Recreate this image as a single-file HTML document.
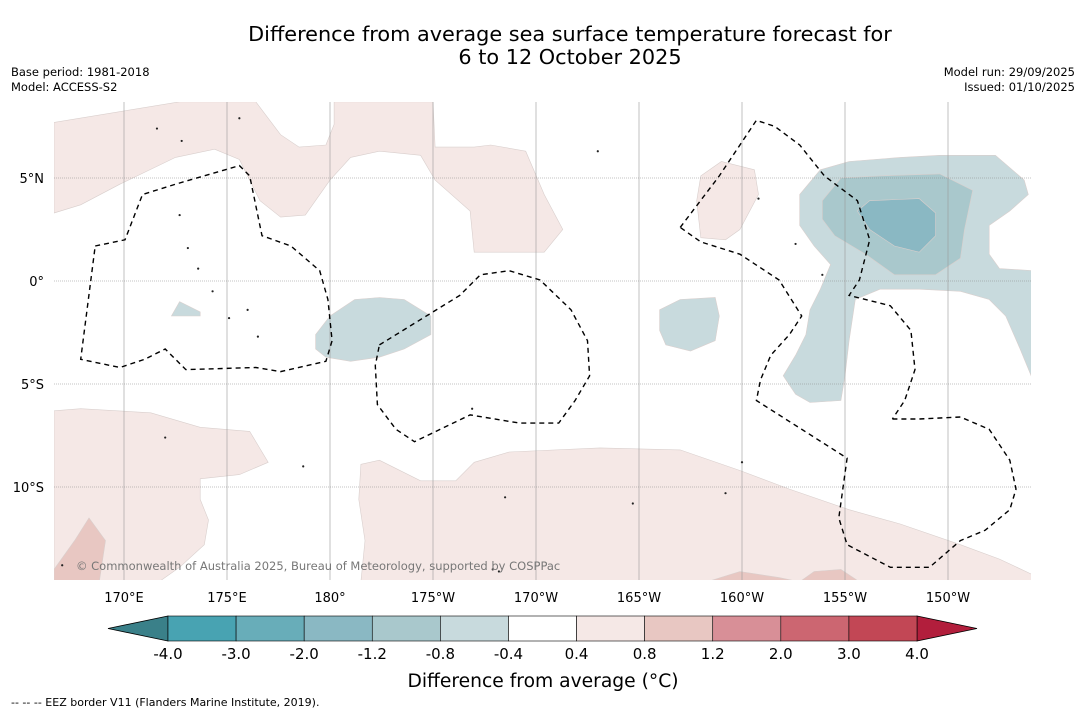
<!DOCTYPE html>
<html><head><meta charset="utf-8"><style>
body{margin:0;background:#fff;width:1085px;height:713px;overflow:hidden;font-family:"DejaVu Sans","Liberation Sans",sans-serif}
svg{position:absolute;left:0;top:0}
</style></head><body>
<svg id="chart" width="1085" height="713" xmlns="http://www.w3.org/2000/svg">
<text x="570" y="41" text-anchor="middle" font-size="20.8">Difference from average sea surface temperature forecast for</text>
<text x="570" y="64" text-anchor="middle" font-size="20.8">6 to 12 October 2025</text>
<text x="11" y="76" font-size="11.5">Base period: 1981-2018</text>
<text x="11" y="91" font-size="11.5">Model: ACCESS-S2</text>
<text x="1075" y="76" font-size="11.5" text-anchor="end">Model run: 29/09/2025</text>
<text x="1075" y="91" font-size="11.5" text-anchor="end">Issued: 01/10/2025</text>
<defs><clipPath id="mapclip"><rect x="54" y="102" width="977" height="478"/></clipPath></defs>
<g id="map" clip-path="url(#mapclip)"></g>
<g id="axes"></g>
<g id="cbar"></g>
<text x="543" y="687" text-anchor="middle" font-size="18.7">Difference from average (°C)</text>
<text x="11" y="706" font-size="11">-- -- -- EEZ border V11 (Flanders Marine Institute, 2019).</text>
</svg>
<script>
const NS="http://www.w3.org/2000/svg";
const lonTicks=[170,175,180,185,190,195,200,205,210];
const lonLabels=["170°E","175°E","180°","175°W","170°W","165°W","160°W","155°W","150°W"];
const latTicks=[5,0,-5,-10];
const latLabels=["5°N","0°","5°S","10°S"];
const cbarBounds=["-4.0","-3.0","-2.0","-1.2","-0.8","-0.4","0.4","0.8","1.2","2.0","3.0","4.0"];
const cbarColors=["#48a3b2","#68adb9","#8ab8c3","#a9c8cc","#c8dadd","#ffffff","#f5e8e6","#e8c7c2","#d88f97","#cc6671","#c24755"];
const regions=[
 {name:"pink-north",c:"#f5e8e6",p:[[166.6,7.7],[172.7,8.7],[176.4,8.7],[177.6,7.1],[178.5,6.5],[179.8,6.6],[180.2,7.6],[180.2,8.7],[185,8.7],[185.1,6.5],[187,6.5],[187.8,6.6],[189.5,6.3],[190.4,4.2],[191.3,2.5],[190.4,1.4],[187,1.4],[186.8,3.4],[185.1,4.9],[184.4,6.1],[182.4,6.3],[181,6.0],[180,4.9],[178.8,3.2],[177.6,3.1],[176.6,3.9],[175.6,5.9],[174.4,6.4],[172.5,6.0],[169.8,4.7],[167.9,3.7],[166.6,3.3]]},
 {name:"pink-160w-north",c:"#f5e8e6",p:[[198.0,5.1],[199.0,5.8],[200.6,5.4],[200.8,4.2],[199.9,2.5],[199.2,2.0],[198.0,2.1],[197.8,3.9]]},
 {name:"pink-south-west",c:"#f5e8e6",p:[[166.6,-6.3],[167.9,-6.2],[171.3,-6.4],[173.7,-7.1],[176.1,-7.3],[177.0,-8.8],[175.6,-9.4],[173.7,-9.6],[173.7,-10.6],[174.1,-11.6],[173.9,-12.8],[172.7,-13.9],[171.7,-14.6],[166.6,-14.6]]},
 {name:"pink-south-west-dark",c:"#e8c7c2",p:[[166.6,-14.0],[167.6,-12.6],[168.3,-11.5],[169.1,-12.6],[168.8,-14.6],[166.6,-14.6]]},
 {name:"pink-south",c:"#f5e8e6",p:[[181.5,-8.9],[182.4,-8.7],[184.4,-9.7],[186.1,-9.7],[187.0,-8.8],[188.7,-8.3],[193.1,-8.1],[197.0,-8.2],[199.9,-9.2],[202.3,-10.1],[205.2,-11.1],[207.7,-11.8],[210.6,-12.8],[212.5,-13.5],[214.2,-14.3],[214.2,-14.6],[181.5,-14.6],[181.7,-12.6],[181.4,-10.6]]},
 {name:"pink-south-dark-1",c:"#e8c7c2",p:[[198.3,-14.6],[199.9,-14.1],[201.8,-14.4],[202.8,-14.6]]},
 {name:"pink-south-dark-2",c:"#e8c7c2",p:[[202.8,-14.6],[203.5,-14.1],[204.8,-14.0],[205.7,-14.6]]},
 {name:"blue-east",c:"#c8dadd",p:[[202.8,4.2],[203.8,5.4],[205.2,5.8],[207.7,6.0],[209.6,6.1],[212.3,6.1],[213.7,4.9],[213.9,4.2],[213.0,3.4],[212.0,2.7],[212.0,1.3],[212.5,0.6],[214.2,0.5],[214.2,-5.0],[213.5,-3.3],[212.8,-1.7],[212.0,-0.9],[210.6,-0.5],[208.6,-0.4],[206.7,-0.4],[205.5,-0.9],[205.2,-2.9],[205.0,-4.6],[204.8,-5.8],[203.3,-5.9],[202.6,-5.5],[202.0,-4.6],[202.6,-3.6],[203.1,-2.6],[203.3,-1.4],[203.8,-0.4],[204.3,0.8],[203.5,1.7],[202.8,2.7]]},
 {name:"blue-east-mid",c:"#a9c8cc",p:[[203.9,3.9],[204.8,5.0],[206.7,5.1],[209.6,5.2],[211.2,4.4],[210.8,2.5],[210.6,1.1],[209.4,0.3],[207.4,0.3],[206.0,1.3],[204.5,2.2],[203.9,3.0]]},
 {name:"blue-east-core",c:"#8ab8c3",p:[[205.6,3.4],[206.2,3.9],[208.6,4.0],[209.4,3.3],[209.4,2.2],[208.6,1.4],[207.4,1.7],[206.2,2.5]]},
 {name:"blue-180",c:"#c8dadd",p:[[179.3,-2.6],[180,-1.7],[181.2,-0.9],[182.4,-0.8],[183.6,-0.9],[184.9,-1.7],[184.9,-2.6],[183.6,-3.3],[182.4,-3.7],[181.0,-3.9],[179.8,-3.7],[179.3,-3.3]]},
 {name:"blue-165w",c:"#c8dadd",p:[[196.0,-1.4],[197.0,-0.9],[198.7,-0.8],[198.9,-1.7],[198.7,-2.9],[197.5,-3.4],[196.3,-3.1],[196.0,-2.4]]},
 {name:"blue-175e",c:"#c8dadd",p:[[172.3,-1.7],[172.7,-1.0],[173.7,-1.5],[173.7,-1.7]]}
];
const eez=[
 [[168.6,1.7],[170.05,2.0],[170.9,4.2],[172.5,4.7],[175.6,5.6],[176.1,5.1],[176.7,2.2],[178.1,1.7],[179.5,0.5],[179.9,-0.9],[180.1,-2.9],[179.8,-3.9],[177.6,-4.4],[176.4,-4.2],[173.0,-4.3],[172.0,-3.3],[171.0,-3.8],[169.8,-4.2],[167.9,-3.8],[168.6,1.7]],
 [[182.4,-3.1],[186.3,-0.7],[187.3,0.3],[188.7,0.5],[190.2,0.05],[191.7,-1.4],[192.5,-2.9],[192.6,-4.6],[191.9,-5.8],[191.1,-6.9],[189.2,-6.9],[186.8,-6.5],[184.1,-7.8],[183.2,-7.2],[182.3,-6.0],[182.2,-4.1],[182.4,-3.1]],
 [[197.0,2.6],[198.9,5.1],[200.7,7.8],[201.6,7.5],[202.8,6.6],[204.0,5.1],[205.6,3.9],[206.2,2.0],[205.7,0.05],[205.2,-0.7],[207.2,-1.2],[208.2,-2.4],[208.4,-4.3],[207.9,-5.8],[207.3,-6.7]],
 [[207.3,-6.7],[208.6,-6.7],[210.6,-6.6],[212.0,-7.2],[213.0,-8.7],[213.3,-10.1],[213.0,-11.1],[211.8,-12.1],[210.6,-12.6],[209.1,-13.9],[207.2,-13.9],[205.1,-12.8],[204.7,-11.5],[205.1,-8.6],[200.7,-5.8],[200.9,-4.8],[201.4,-3.6],[202.3,-2.6],[202.9,-1.7],[201.8,0.05],[199.9,1.3],[198.0,1.9],[197.0,2.6]]
];
const islands=[[172.8,6.8],[171.6,7.4],[175.6,7.9],[172.7,3.2],[173.1,1.6],[173.6,0.6],[174.3,-0.5],[175.1,-1.8],[176.0,-1.4],[176.5,-2.7],[186.9,-6.2],[194.7,-10.8],[199.2,-10.3],[203.9,0.3],[200.8,4.0],[193.0,6.3],[202.6,1.8],[187.9,-14.0],[188.2,-14.1],[167.0,-13.8],[172.0,-7.6],[178.7,-9.0],[188.5,-10.5],[200.0,-8.8]];
const X=lon=>124+(lon-170)*20.6, Y=lat=>281-lat*20.6;
const pts=p=>p.map(q=>X(q[0]).toFixed(1)+","+Y(q[1]).toFixed(1)).join(" ");
function mk(tag,attrs,parent){const e=document.createElementNS(NS,tag);for(const k in attrs)e.setAttribute(k,attrs[k]);parent.appendChild(e);return e;}
const map=document.getElementById("map");
regions.forEach(r=>{const e=mk("polygon",{points:pts(r.p),fill:r.c,stroke:"#d9cfcd","stroke-width":"0.6"},map);

});
lonTicks.forEach(l=>{const e=mk("line",{x1:X(l),x2:X(l),y1:102,y2:580,stroke:"#999","stroke-width":"0.6"},map);

});
latTicks.forEach(l=>{const e=mk("line",{x1:54,x2:1031,y1:Y(l),y2:Y(l),stroke:"#888","stroke-width":"0.6","stroke-dasharray":"1,1"},map);

});
eez.forEach(p=>{const e=mk("polyline",{points:pts(p),fill:"none",stroke:"#000","stroke-width":"1.4","stroke-dasharray":"5,4"},map);

});
islands.forEach(p=>{const e=mk("circle",{cx:X(p[0]),cy:Y(p[1]),r:1.1,fill:"#222"},map);

});
const cr=mk("text",{x:76,y:570,"font-size":"11.5",fill:"#777"},map);cr.textContent="© Commonwealth of Australia 2025, Bureau of Meteorology, supported by COSPPac";


const ax=document.getElementById("axes");
lonTicks.forEach((l,i)=>{const t=mk("text",{x:X(l),y:602,"text-anchor":"middle","font-size":"13"},ax);t.textContent=lonLabels[i];

});
latTicks.forEach((l,i)=>{const t=mk("text",{x:44,y:Y(l)+5,"text-anchor":"end","font-size":"13"},ax);t.textContent=latLabels[i];

});
const cb=document.getElementById("cbar");
const x0=168,x1=917,y0=616,y1=641,w=(x1-x0)/cbarColors.length;
const lt=mk("polygon",{points:`${x0},${y0} ${x0},${y1} 108,628.5`,fill:"#3a8089",stroke:"#000","stroke-width":"0.8"},cb);


const rt=mk("polygon",{points:`${x1},${y0} ${x1},${y1} 977,628.5`,fill:"#b21e3c",stroke:"#000","stroke-width":"0.8"},cb);


cbarColors.forEach((c,i)=>{const r=mk("rect",{x:x0+i*w,y:y0,width:w,height:y1-y0,fill:c,stroke:"#000","stroke-width":"0.6"},cb);

});
cbarBounds.forEach((b,i)=>{const t=mk("text",{x:x0+i*w,y:659,"text-anchor":"middle","font-size":"15"},cb);t.textContent=b;

});
</script>
</body></html>
